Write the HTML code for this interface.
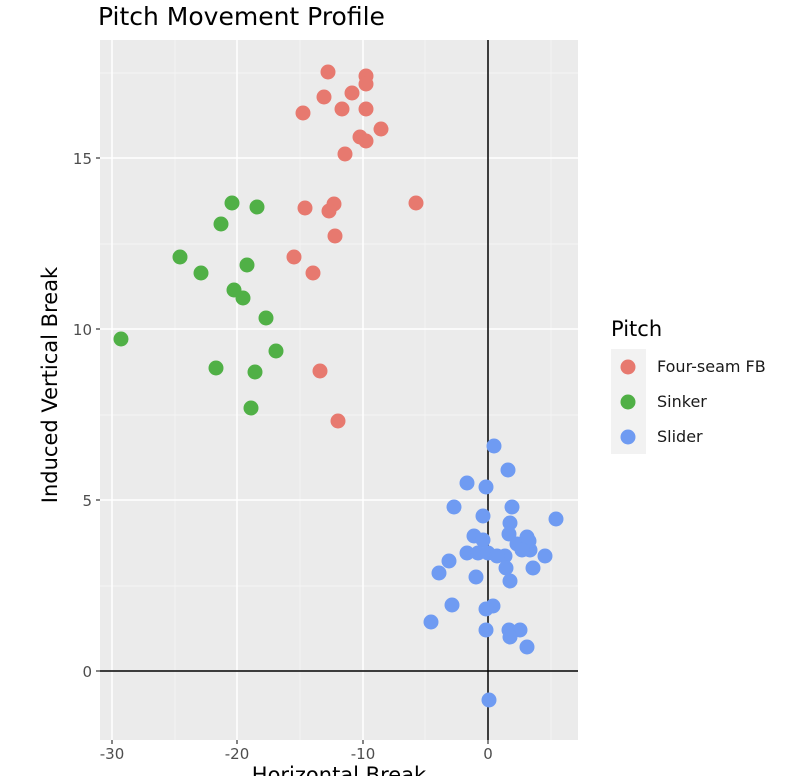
<!DOCTYPE html>
<html><head><style>body{margin:0;background:#fff;}svg{display:block;font-family:"DejaVu Sans","Liberation Sans",sans-serif;}</style></head>
<body>
<svg width="786" height="776" xmlns="http://www.w3.org/2000/svg">
<rect x="100" y="40" width="478" height="700" fill="#ebebeb"/>
<g stroke="#f7f7f7" stroke-width="0.7">
<line x1="175" x2="175" y1="40" y2="740"/><line x1="300" x2="300" y1="40" y2="740"/><line x1="425" x2="425" y1="40" y2="740"/><line x1="551" x2="551" y1="40" y2="740"/>
<line x1="100" x2="578" y1="73" y2="73"/><line x1="100" x2="578" y1="244" y2="244"/><line x1="100" x2="578" y1="415" y2="415"/><line x1="100" x2="578" y1="586" y2="586"/>
</g>
<g stroke="#fff" stroke-width="1.5">
<line x1="112" x2="112" y1="40" y2="740"/><line x1="237" x2="237" y1="40" y2="740"/><line x1="363" x2="363" y1="40" y2="740"/><line x1="488" x2="488" y1="40" y2="740"/>
<line x1="100" x2="578" y1="158" y2="158"/><line x1="100" x2="578" y1="329" y2="329"/><line x1="100" x2="578" y1="500" y2="500"/><line x1="100" x2="578" y1="671" y2="671"/>
</g>
<line x1="488" x2="488" y1="40" y2="740" stroke="#000" stroke-width="1.5"/>
<line x1="100" x2="578" y1="671" y2="671" stroke="#000" stroke-width="1.5"/>
<g fill="#e7796f">
<circle cx="328" cy="72" r="7.5"/><circle cx="366" cy="76" r="7.5"/><circle cx="366" cy="84" r="7.5"/><circle cx="352" cy="93" r="7.5"/><circle cx="324" cy="97" r="7.5"/><circle cx="342" cy="109" r="7.5"/><circle cx="366" cy="109" r="7.5"/><circle cx="303" cy="113" r="7.5"/><circle cx="381" cy="129" r="7.5"/><circle cx="360" cy="137" r="7.5"/><circle cx="366" cy="141" r="7.5"/><circle cx="345" cy="154" r="7.5"/><circle cx="305" cy="208" r="7.5"/><circle cx="334" cy="204" r="7.5"/><circle cx="329" cy="211" r="7.5"/><circle cx="416" cy="203" r="7.5"/><circle cx="335" cy="236" r="7.5"/><circle cx="294" cy="257" r="7.5"/><circle cx="313" cy="273" r="7.5"/><circle cx="320" cy="371" r="7.5"/><circle cx="338" cy="421" r="7.5"/>
</g>
<g fill="#50b046">
<circle cx="232" cy="203" r="7.5"/><circle cx="257" cy="207" r="7.5"/><circle cx="221" cy="224" r="7.5"/><circle cx="180" cy="257" r="7.5"/><circle cx="201" cy="273" r="7.5"/><circle cx="247" cy="265" r="7.5"/><circle cx="234" cy="290" r="7.5"/><circle cx="243" cy="298" r="7.5"/><circle cx="266" cy="318" r="7.5"/><circle cx="121" cy="339" r="7.5"/><circle cx="276" cy="351" r="7.5"/><circle cx="216" cy="368" r="7.5"/><circle cx="255" cy="372" r="7.5"/><circle cx="251" cy="408" r="7.5"/>
</g>
<g fill="#6f9bf2">
<circle cx="494" cy="446" r="7.5"/><circle cx="508" cy="470" r="7.5"/><circle cx="467" cy="483" r="7.5"/><circle cx="486" cy="487" r="7.5"/><circle cx="454" cy="507" r="7.5"/><circle cx="512" cy="507" r="7.5"/><circle cx="483" cy="516" r="7.5"/><circle cx="510" cy="523" r="7.5"/><circle cx="556" cy="519" r="7.5"/><circle cx="474" cy="536" r="7.5"/><circle cx="483" cy="540" r="7.5"/><circle cx="509" cy="534" r="7.5"/><circle cx="527" cy="537" r="7.5"/><circle cx="517" cy="544" r="7.5"/><circle cx="530" cy="550" r="7.5"/><circle cx="467" cy="553" r="7.5"/><circle cx="478" cy="553" r="7.5"/><circle cx="488" cy="553" r="7.5"/><circle cx="505" cy="556" r="7.5"/><circle cx="526" cy="548" r="7.5"/><circle cx="545" cy="556" r="7.5"/><circle cx="449" cy="561" r="7.5"/><circle cx="533" cy="568" r="7.5"/><circle cx="506" cy="568" r="7.5"/><circle cx="439" cy="573" r="7.5"/><circle cx="476" cy="577" r="7.5"/><circle cx="510" cy="581" r="7.5"/><circle cx="452" cy="605" r="7.5"/><circle cx="493" cy="606" r="7.5"/><circle cx="486" cy="609" r="7.5"/><circle cx="431" cy="622" r="7.5"/><circle cx="486" cy="630" r="7.5"/><circle cx="509" cy="630" r="7.5"/><circle cx="520" cy="630" r="7.5"/><circle cx="510" cy="637" r="7.5"/><circle cx="527" cy="647" r="7.5"/><circle cx="489" cy="700" r="7.5"/><circle cx="529" cy="541" r="7.5"/><circle cx="522" cy="550" r="7.5"/><circle cx="497" cy="556" r="7.5"/>
</g>
<g stroke="#333" stroke-width="1.2">
<line x1="96" x2="100" y1="158" y2="158"/><line x1="96" x2="100" y1="329" y2="329"/><line x1="96" x2="100" y1="500" y2="500"/><line x1="96" x2="100" y1="671" y2="671"/>
<line x1="112" x2="112" y1="740" y2="744"/><line x1="237" x2="237" y1="740" y2="744"/><line x1="363" x2="363" y1="740" y2="744"/><line x1="488" x2="488" y1="740" y2="744"/>
</g>
<g fill="#4d4d4d" font-size="15" text-anchor="end">
<text x="92" y="164">15</text><text x="92" y="335">10</text><text x="92" y="506">5</text><text x="92" y="677">0</text>
</g>
<g fill="#4d4d4d" font-size="15" text-anchor="middle">
<text x="112" y="759">-30</text><text x="237" y="759">-20</text><text x="363" y="759">-10</text><text x="488" y="759">0</text>
</g>
<text x="339" y="782" font-size="21" text-anchor="middle">Horizontal Break</text>
<text transform="translate(57,385) rotate(-90)" font-size="21" text-anchor="middle">Induced Vertical Break</text>
<text x="98" y="25" font-size="25">Pitch Movement Profile</text>
<text x="611" y="336" font-size="21">Pitch</text>
<rect x="611" y="349" width="35" height="105" fill="#f2f2f2"/>
<circle cx="628" cy="367" r="7.5" fill="#e7796f"/><circle cx="628" cy="402" r="7.5" fill="#50b046"/><circle cx="628" cy="437" r="7.5" fill="#6f9bf2"/>
<g font-size="16" fill="#1a1a1a"><text x="657" y="372">Four-seam FB</text><text x="657" y="407">Sinker</text><text x="657" y="442">Slider</text></g>
</svg>
</body></html>
